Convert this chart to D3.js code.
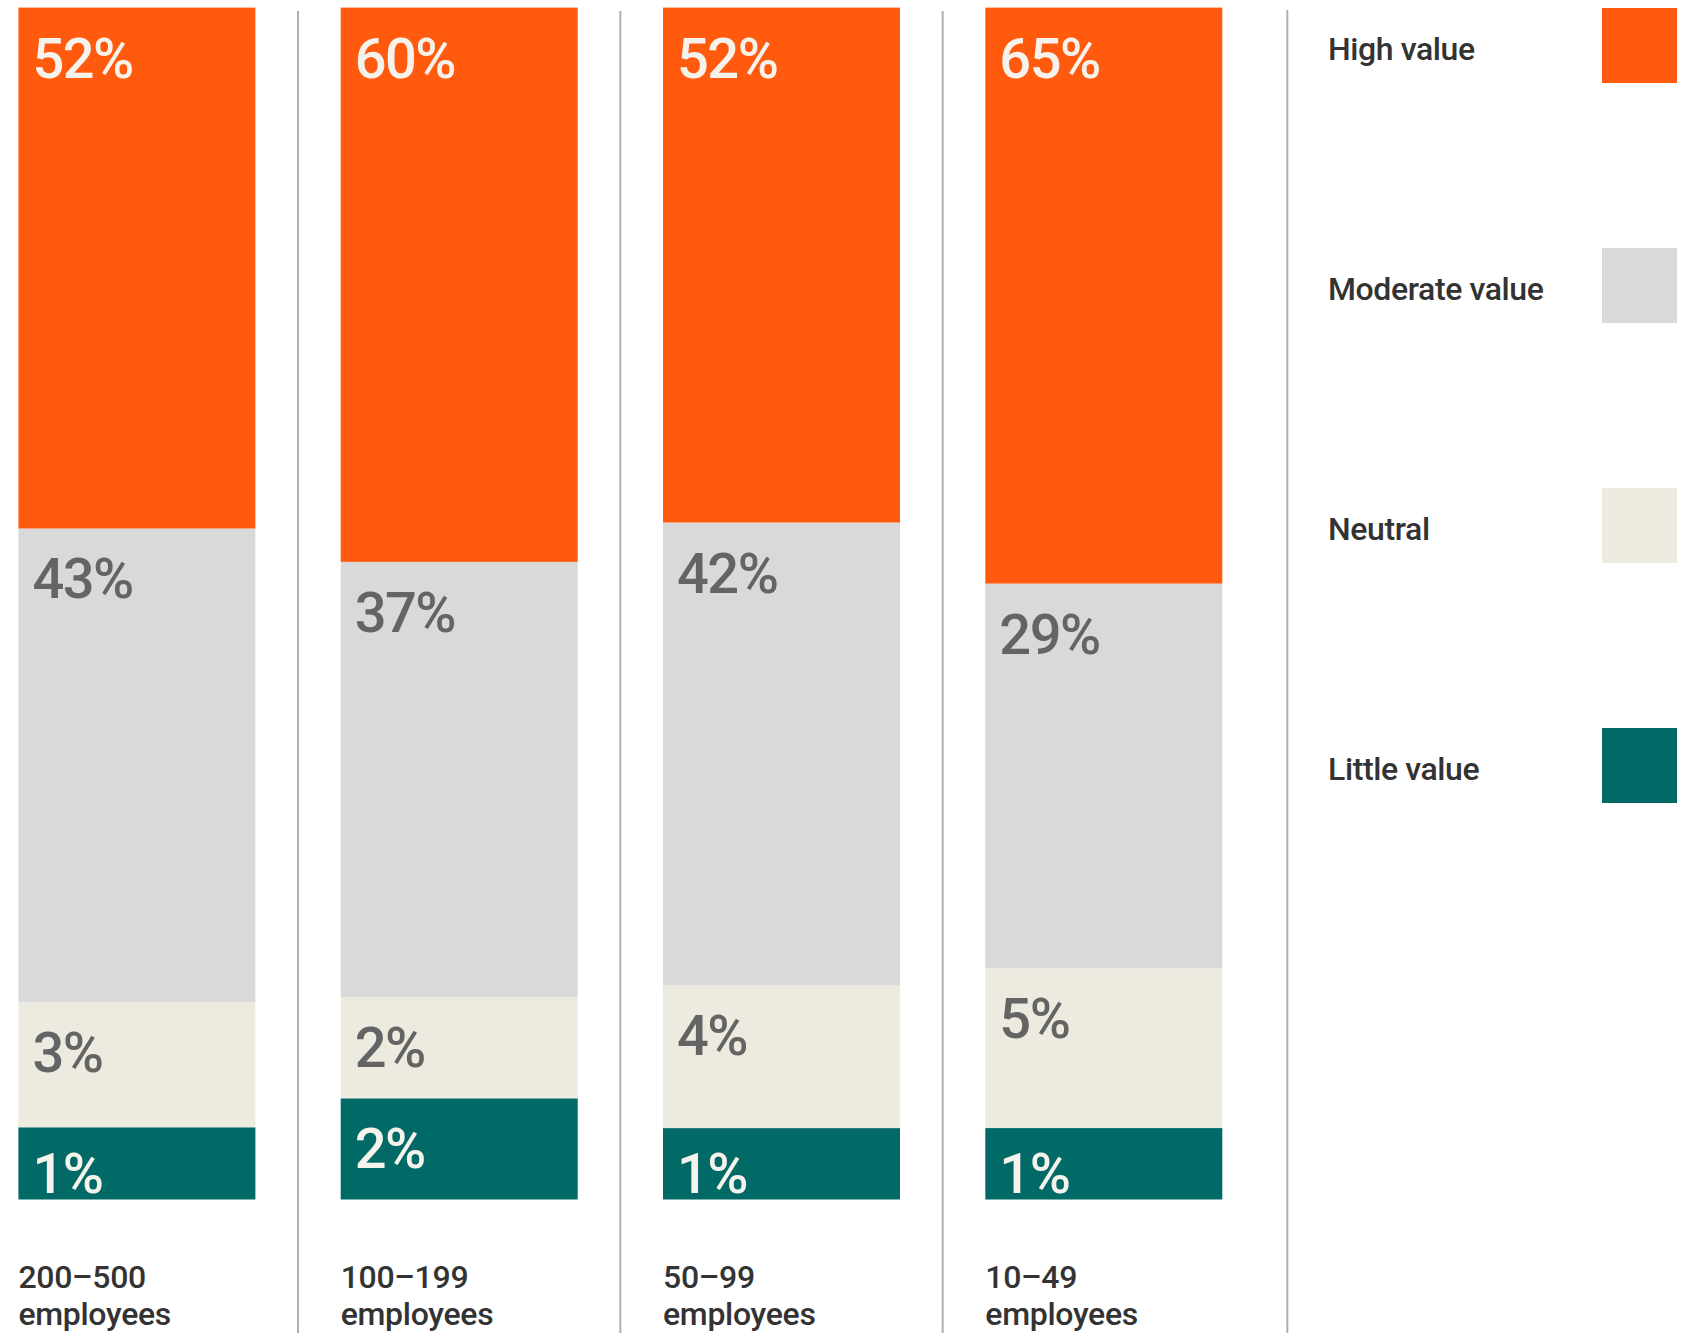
<!DOCTYPE html>
<html>
<head>
<meta charset="utf-8">
<script src="https://cdn.jsdelivr.net/npm/d3@7/dist/d3.min.js"></script>
<style>
  html, body { margin: 0; padding: 0; background: #ffffff; }
  svg { display: block; }
</style>
</head>
<body>
<svg id="chart" width="1693" height="1333"></svg>
<script>
// Company-size groups (two-line axis labels)
const groups = ["200–500", "100–199", "50–99", "10–49"];
const groupSuffix = "employees";

// Share of respondents per rating, one array per series
const high     = [52, 60, 52, 65];
const moderate = [43, 37, 42, 29];
const neutral  = [3, 2, 4, 5];
const little   = [1, 2, 1, 1];

const seriesKeys   = ["little", "neutral", "moderate", "high"];          // bottom → top
const legendLabels = ["High value", "Moderate value", "Neutral", "Little value"];
const legendKeys   = ["high", "moderate", "neutral", "little"];

const colors = {
  high: "#FF5A0D",
  moderate: "#D9D9D9",
  neutral: "#EDEBE0",
  little: "#016966"
};
const labelColors = {
  high: "#F6F3EC",
  moderate: "#646464",
  neutral: "#646464",
  little: "#F6F3EC"
};

const rows = groups.map((g, i) => ({
  group: g,
  high: high[i], moderate: moderate[i], neutral: neutral[i], little: little[i]
}));

const svg = d3.select("#chart");
const FONT = "Roboto, 'Liberation Sans', Arial, sans-serif";

// Layout
const barTop = 7.6, barBottom = 1199.5;
const x = d3.scaleBand()
  .domain(groups)
  .range([18.4, 1222.3])
  .paddingInner(0.2647)
  .paddingOuter(0);

// Segment heights use a square-root scale so small shares stay legible,
// then each column is stacked to fill the full height.
const sizeScale = d3.scaleSqrt().domain([0, 100]).range([0, 10]);
const scaledRows = rows.map(r => {
  const o = { group: r.group };
  seriesKeys.forEach(k => { o[k] = sizeScale(r[k]); });
  return o;
});
const stacked = d3.stack().keys(seriesKeys)(scaledRows);

const yFor = groups.map((g, i) => {
  const total = d3.sum(seriesKeys, k => scaledRows[i][k]);
  return d3.scaleLinear().domain([0, total]).range([barBottom, barTop]);
});

// Column dividers
const dividerXs = groups.slice(0, -1).map(g => x(g) + x.bandwidth() + (x.step() - x.bandwidth()) / 2);
svg.append("g").selectAll("line")
  .data(dividerXs)
  .join("line")
  .attr("x1", d => d).attr("x2", d => d)
  .attr("y1", 11).attr("y2", 1333)
  .attr("stroke", "#AFAFAF").attr("stroke-width", 2);

// Divider before the legend
const legendDividerX = x(groups[groups.length - 1]) + x.bandwidth() + 65;
svg.append("line")
  .attr("x1", legendDividerX).attr("x2", legendDividerX)
  .attr("y1", 10).attr("y2", 1333)
  .attr("stroke", "#AFAFAF").attr("stroke-width", 2);

// Stacked segments
const layer = svg.append("g").selectAll("g")
  .data(stacked)
  .join("g")
  .attr("fill", d => colors[d.key]);

layer.selectAll("rect")
  .data(d => d.map((seg, i) => ({ key: d.key, i, seg })))
  .join("rect")
  .attr("x", d => x(groups[d.i]))
  .attr("width", x.bandwidth())
  .attr("y", d => yFor[d.i](d.seg[1]))
  .attr("height", d => yFor[d.i](d.seg[0]) - yFor[d.i](d.seg[1]));

// Value labels in the top-left corner of each segment
const labelData = [];
stacked.forEach(s => {
  s.forEach((seg, i) => {
    const top = yFor[i](seg[1]);
    const h = yFor[i](seg[0]) - top;
    labelData.push({ key: s.key, i, top, h, value: rows[i][s.key] });
  });
});

svg.append("g").selectAll("text")
  .data(labelData)
  .join("text")
  .attr("x", d => x(groups[d.i]) + 14)
  .attr("y", d => d.top + Math.min(70, d.h - 7))
  .attr("fill", d => labelColors[d.key])
  .attr("font-family", FONT)
  .attr("font-size", 56)
  .attr("font-weight", 500)
  .attr("letter-spacing", -1.5)
  .text(d => d.value + "%");

// Group labels under each column
const catG = svg.append("g").selectAll("text")
  .data(groups)
  .join("text")
  .attr("x", d => x(d))
  .attr("y", 1288)
  .attr("fill", "#333333")
  .attr("font-family", FONT)
  .attr("font-size", 32)
  .attr("font-weight", 500)
  .attr("letter-spacing", -0.3);
catG.append("tspan").text(d => d);
catG.append("tspan").attr("x", d => x(d)).attr("dy", 37).text(groupSuffix);

// Legend
const legendY = d3.scalePoint().domain(legendKeys).range([8, 728]);
const legend = svg.append("g").selectAll("g")
  .data(legendKeys)
  .join("g")
  .attr("transform", d => `translate(0,${legendY(d)})`);

legend.append("rect")
  .attr("x", 1602).attr("y", 0)
  .attr("width", 75).attr("height", 75)
  .attr("fill", d => colors[d]);

legend.append("text")
  .attr("x", 1328).attr("y", 52)
  .attr("fill", "#333333")
  .attr("font-family", FONT)
  .attr("font-size", 32)
  .attr("font-weight", 500)
  .attr("letter-spacing", -0.4)
  .text((d, i) => legendLabels[i]);
</script>
</body>
</html>
